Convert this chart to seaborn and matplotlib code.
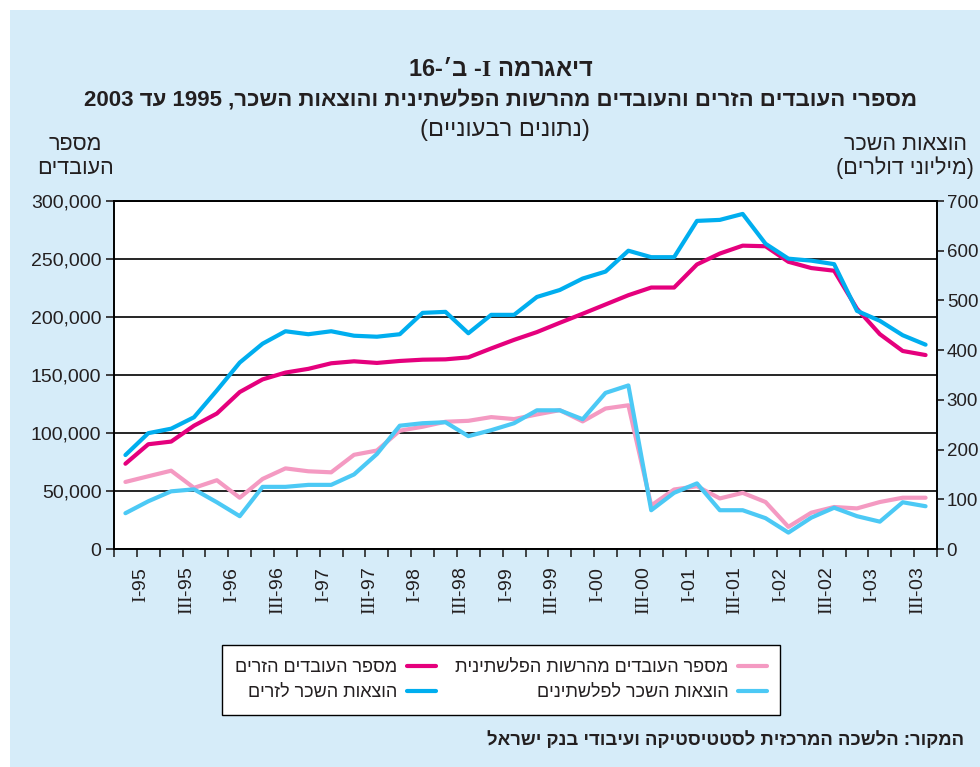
import re
import numpy as np
import matplotlib
matplotlib.use("Agg")
import matplotlib.pyplot as plt
import matplotlib.patches as mpatches
from matplotlib.ticker import FuncFormatter
import seaborn as sns

# quarterly data, I-95 .. IV-03
years = ["95", "96", "97", "98", "99", "00", "01", "02", "03"]
roman = ["I", "II", "III", "IV"]
quarters = [f"{r}-{y}" for y in years for r in roman]

# number of workers (left axis)
foreign_workers = [73500, 90300, 92600, 106300, 116800, 135300, 146200, 152100, 155300, 160100,
                   161800, 160400, 162100, 163200, 163500, 165200, 172900, 180300, 187000, 195000,
                   202800, 210800, 218800, 225400, 225400, 245300, 254700, 261500, 261000, 247600,
                   242200, 239900, 207100, 185200, 170700, 167200]
pal_workers = [57800, 62700, 67500, 52700, 59300, 44200, 60400, 69500, 67000, 66100,
               81200, 84900, 102000, 105400, 109700, 110500, 113700, 112000, 116000, 119700,
               110000, 121100, 123900, 37500, 51300, 54100, 43600, 48400, 40500, 19100,
               31300, 36200, 35000, 40500, 44200, 44200]

# wage expenditure, $ million (right axis)
foreign_wage = [189, 233, 242, 265, 319, 375, 413, 438, 432, 438,
                429, 427, 432, 475, 477, 434, 471, 471, 507, 521,
                544, 558, 600, 587, 587, 660, 662, 674, 614, 584,
                580, 573, 479, 459, 430, 411]
pal_wage = [72, 96, 116, 120, 94, 66, 125, 125, 129, 129,
            150, 191, 248, 253, 255, 227, 239, 253, 279, 279,
            261, 314, 329, 78, 113, 132, 78, 78, 62, 33,
            63, 83, 66, 55, 94, 86]

series_names = ["מספר העובדים הזרים", "הוצאות השכר לזרים",
                "מספר העובדים מהרשות הפלשתינית", "הוצאות השכר לפלשתינים"]

BG = "#D6ECF9"
MAGENTA = "#E5007D"
BLUE = "#00AEEF"
PINK = "#F49AC2"
LBLUE = "#4CC9F5"
INK = "#231F20"


def rtl(s):
    # matplotlib has no bidi: put hebrew in visual order, keep numbers/latin as is
    r = s[::-1]
    r = re.sub(r"[A-Za-z0-9]+", lambda m: m.group(0)[::-1], r)
    return r.translate(str.maketrans("()", ")("))


sns.set_style("white")
plt.rcParams["font.family"] = ["Liberation Sans", "DejaVu Sans"]
plt.rcParams["mathtext.fontset"] = "custom"
plt.rcParams["mathtext.rm"] = "Liberation Serif"
plt.rcParams["mathtext.bf"] = "Liberation Serif:bold"
plt.rcParams["text.color"] = INK

W, H = 980, 767
fig = plt.figure(figsize=(W / 100, H / 100), dpi=100)
fig.patch.set_facecolor("white")
fig.add_artist(mpatches.Rectangle((10 / W, 0), 1, 757 / H, transform=fig.transFigure,
                                  facecolor=BG, edgecolor="none", zorder=-10))

ax = fig.add_axes([114 / W, 1 - 549 / H, (937 - 114) / W, (549 - 201) / H])
ax.set_facecolor("white")
ax2 = ax.twinx()

x = np.arange(len(quarters))
sns.lineplot(x=x, y=foreign_workers, ax=ax, color=MAGENTA, lw=3, label=rtl(series_names[0]))
sns.lineplot(x=x, y=pal_workers, ax=ax, color=PINK, lw=3, label=rtl(series_names[2]))
sns.lineplot(x=x, y=foreign_wage, ax=ax2, color=BLUE, lw=3, label=rtl(series_names[1]))
sns.lineplot(x=x, y=pal_wage, ax=ax2, color=LBLUE, lw=3, label=rtl(series_names[3]))

h1, l1 = ax.get_legend_handles_labels()
h2, l2 = ax2.get_legend_handles_labels()
ax.get_legend().remove()
ax2.get_legend().remove()

ax.set_xlim(-0.5, 35.5)
ax.set_ylim(0, 300000)
ax2.set_ylim(0, 700)
ax.set_yticks(range(0, 300001, 50000))
ax.yaxis.set_major_formatter(FuncFormatter(lambda v, p: f"{int(v):,}"))
ax2.set_yticks(range(0, 701, 100))

ax.grid(axis="y", color="black", lw=1.2)
ax.grid(axis="x", visible=False)
ax2.grid(False)
ax.set_axisbelow(True)

for a in (ax, ax2):
    for sp in a.spines.values():
        sp.set_color("black")
        sp.set_linewidth(1.2)
        sp.set_visible(True)

ax.tick_params(axis="y", left=True, direction="out", length=6, width=1.2,
               labelsize=14, pad=3, colors=INK)
ax2.tick_params(axis="y", right=True, direction="out", length=5, width=1.2,
                labelsize=13.5, pad=2, colors=INK)

# category boundaries as tick marks, labels for I and III quarters
ax.set_xticks(np.arange(-0.5, len(quarters), 1), minor=True)
ax.set_xticks(x[::2] + 0.7)
ax.set_xticklabels([f"$\\mathrm{{{q.split('-')[0]}}}$-{q.split('-')[1]}" for q in quarters[::2]],
                   rotation=90)
ax.tick_params(axis="x", which="minor", bottom=True, direction="out", length=6, width=1.2)
ax.tick_params(axis="x", which="major", bottom=True, length=0, pad=13, labelsize=14,
               colors=INK)
ax.set_xlabel("")
ax.set_ylabel("")
ax2.set_ylabel("")

title1 = rtl("דיאגרמה I- ב׳-16").replace("I", "$\\mathbf{I}$")
fig.text(501 / W, 1 - 70 / H, title1, ha="center", va="center",
         fontsize=17, fontweight="bold")
fig.text(501 / W, 1 - 100 / H,
         rtl("מספרי העובדים הזרים והעובדים מהרשות הפלשתינית והוצאות השכר, 1995 עד 2003"),
         ha="center", va="center", fontsize=16, fontweight="bold")
fig.text(505 / W, 1 - 130 / H, rtl("(נתונים רבעוניים)"), ha="center", va="center", fontsize=17)

fig.text(75 / W, 1 - 145 / H, rtl("מספר"), ha="center", va="center", fontsize=15.5)
fig.text(75 / W, 1 - 168 / H, rtl("העובדים"), ha="center", va="center", fontsize=15.5)
fig.text(905 / W, 1 - 145 / H, rtl("הוצאות השכר"), ha="center", va="center", fontsize=15.5)
fig.text(905 / W, 1 - 168 / H, rtl("(מיליוני דולרים)"), ha="center", va="center", fontsize=15.5)

fig.text(964 / W, 1 - 740 / H, rtl("המקור: הלשכה המרכזית לסטטיסטיקה ועיבודי בנק ישראל"),
         ha="right", va="center", fontsize=13.3, fontweight="bold")

handles = [h1[0], h2[0], h1[1], h2[1]]
labels = [l1[0], l2[0], l1[1], l2[1]]
leg = fig.legend(handles, labels, ncol=2, markerfirst=False, loc="center",
                 bbox_to_anchor=(501 / W, 1 - 680 / H), frameon=True, fancybox=False,
                 edgecolor="black", facecolor="white", fontsize=13, handlelength=1.6,
                 columnspacing=1.1, borderpad=0.75, labelspacing=0.45, handletextpad=0.5)
leg.get_frame().set_linewidth(1.0)
leg.get_frame().set_alpha(1)

fig.savefig("out.png", dpi=100, facecolor=fig.get_facecolor())
